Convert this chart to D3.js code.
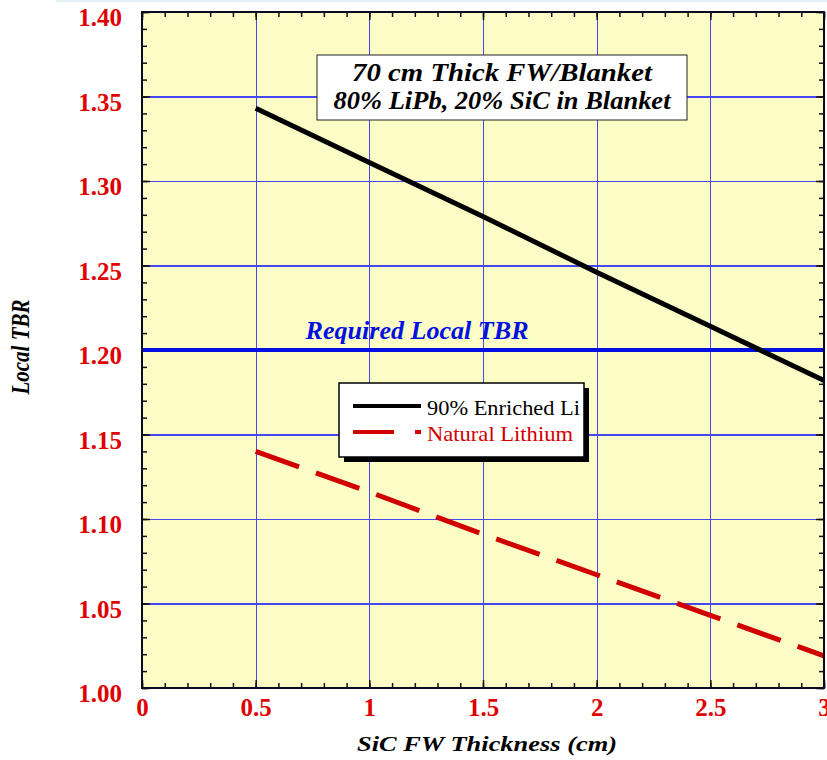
<!DOCTYPE html>
<html>
<head>
<meta charset="utf-8">
<script src="https://cdn.jsdelivr.net/npm/d3@7"></script>
<style>
  body { margin: 0; background: #fff; }
  svg { display: block; }
</style>
</head>
<body>
<svg id="chart" width="827" height="760"></svg>
<script>
// data
const thickness = [0.5, 1.0, 1.5, 2.0, 2.5, 3.0];
const enrichedTBR = [1.343, 1.311, 1.279, 1.246, 1.214, 1.182];
const naturalTBR = [1.140, 1.116, 1.091, 1.067, 1.043, 1.019];
const requiredTBR = 1.20;
const xTicks = [0, 0.5, 1, 1.5, 2, 2.5, 3];
const yTicks = [1.00, 1.05, 1.10, 1.15, 1.20, 1.25, 1.30, 1.35, 1.40];
const xTickLabels = ['0', '0.5', '1', '1.5', '2', '2.5', '3'];
const seriesNames = ['90% Enriched Li', 'Natural Lithium'];
const noteLines = ['70 cm Thick FW/Blanket', '80% LiPb, 20% SiC in Blanket'];

const margin = { left: 142, top: 12, right: 3, bottom: 72 };
const W = 827, H = 760;
const w = W - margin.left - margin.right;
const h = H - margin.top - margin.bottom;

const svg = d3.select('#chart');
const serif = "'Liberation Serif', 'Times New Roman', serif";

// thin pale strip along the top edge
svg.append('rect').attr('x', 56).attr('y', 0).attr('width', W - 56).attr('height', 2)
  .attr('fill', '#e3f0f4');

const g = svg.append('g').attr('transform', `translate(${margin.left},${margin.top})`);

const x = d3.scaleLinear().domain([0, 3]).range([0, w]);
const y = d3.scaleLinear().domain([1.0, 1.4]).range([h, 0]);

// plot background
g.append('rect').attr('width', w).attr('height', h).attr('fill', '#fcfcc6');

// grid lines
const gridStyle = (sel) => {
  sel.select('.domain').remove();
  sel.selectAll('line').attr('stroke', '#4848f0').attr('stroke-width', 1)
    .attr('shape-rendering', 'crispEdges');
};
g.append('g').attr('transform', `translate(0,${h})`)
  .call(d3.axisBottom(x).tickValues(xTicks.slice(1, -1)).tickSize(-h).tickFormat(''))
  .call(gridStyle);
g.append('g')
  .call(d3.axisLeft(y).tickValues(yTicks.slice(1, -1)).tickSize(-w).tickFormat(''))
  .call(gridStyle)
  .selectAll('line').attr('stroke-width', 1.6);

// minor and major ticks on all four sides, pointing inward
const minorX = d3.range(0, 3.0001, 0.1);
const minorY = d3.range(1.0, 1.4001, 0.01);
const tickStyle = (sel) => {
  sel.select('.domain').remove();
  sel.selectAll('line').attr('stroke', '#111').attr('stroke-width', 1.5);
};
g.append('g').attr('transform', `translate(0,${h})`)
  .call(d3.axisBottom(x).tickValues(minorX).tickSize(-5).tickFormat('')).call(tickStyle);
g.append('g')
  .call(d3.axisTop(x).tickValues(minorX).tickSize(-5).tickFormat('')).call(tickStyle);
g.append('g')
  .call(d3.axisLeft(y).tickValues(minorY).tickSize(-5).tickFormat('')).call(tickStyle);
g.append('g').attr('transform', `translate(${w},0)`)
  .call(d3.axisRight(y).tickValues(minorY).tickSize(-5).tickFormat('')).call(tickStyle);
g.append('g')
  .call(d3.axisLeft(y).tickValues(yTicks).tickSize(-8).tickFormat('')).call(tickStyle);
g.append('g').attr('transform', `translate(${w},0)`)
  .call(d3.axisRight(y).tickValues(yTicks).tickSize(-8).tickFormat('')).call(tickStyle);
g.append('g').attr('transform', `translate(0,${h})`)
  .call(d3.axisBottom(x).tickValues(xTicks).tickSize(-8).tickFormat('')).call(tickStyle);
g.append('g')
  .call(d3.axisTop(x).tickValues(xTicks).tickSize(-8).tickFormat('')).call(tickStyle);

// tick labels
const labelStyle = (sel) => {
  sel.select('.domain').remove();
  sel.selectAll('line').remove();
  sel.selectAll('text').attr('fill', '#e00000').attr('font-family', serif)
    .attr('font-weight', 'bold').attr('font-size', 25);
};
g.append('g')
  .call(d3.axisLeft(y).tickValues(yTicks).tickFormat(d3.format('.2f')).tickSize(0).tickPadding(20))
  .call(labelStyle)
  .selectAll('text').attr('dy', '0.55em');
g.append('g').attr('transform', `translate(0,${h})`)
  .call(d3.axisBottom(x).tickValues(xTicks).tickFormat((d, i) => xTickLabels[i]).tickSize(0).tickPadding(10))
  .call(labelStyle)
  .selectAll('text').attr('dy', '0.71em');

// required TBR line
g.append('line')
  .attr('x1', 0).attr('x2', w).attr('y1', y(requiredTBR)).attr('y2', y(requiredTBR))
  .attr('stroke', '#0010e0').attr('stroke-width', 4);
g.append('text')
  .attr('x', x(1.21)).attr('y', y(requiredTBR) - 11)
  .attr('text-anchor', 'middle')
  .attr('font-family', serif).attr('font-weight', 'bold').attr('font-style', 'italic')
  .attr('font-size', 25).attr('fill', '#0010e0')
  .attr('textLength', 223).attr('lengthAdjust', 'spacingAndGlyphs')
  .text('Required Local TBR');

// series lines
const line = d3.line().x((d) => x(d[0])).y((d) => y(d[1]));
g.append('path')
  .datum(d3.zip(thickness, enrichedTBR))
  .attr('d', line).attr('fill', 'none')
  .attr('stroke', '#000').attr('stroke-width', 5);
g.append('path')
  .datum(d3.zip(thickness, naturalTBR))
  .attr('d', line).attr('fill', 'none')
  .attr('stroke', '#d00000').attr('stroke-width', 5)
  .attr('stroke-dasharray', '46 18');

// frame
g.append('rect').attr('width', w).attr('height', h)
  .attr('fill', 'none').attr('stroke', '#0a0a20').attr('stroke-width', 2);

// annotation box
const noteWidths = [300, 337];
const note = g.append('g').attr('transform', `translate(${317 - margin.left},${55 - margin.top})`);
note.append('rect').attr('width', 370).attr('height', 65)
  .attr('fill', '#fff').attr('stroke', '#222').attr('stroke-width', 1);
note.selectAll('text').data(noteLines).join('text')
  .attr('x', 185).attr('y', (d, i) => 26 + i * 28)
  .attr('text-anchor', 'middle')
  .attr('font-family', serif).attr('font-weight', 'bold').attr('font-style', 'italic')
  .attr('font-size', 26).attr('fill', '#000')
  .attr('textLength', (d, i) => noteWidths[i]).attr('lengthAdjust', 'spacingAndGlyphs')
  .text((d) => d);

// legend
const legend = g.append('g').attr('transform', `translate(${339 - margin.left},${383 - margin.top})`);
legend.append('rect').attr('x', 5).attr('y', 5).attr('width', 245).attr('height', 74).attr('fill', '#000');
legend.append('rect').attr('width', 245).attr('height', 74)
  .attr('fill', '#fff').attr('stroke', '#000').attr('stroke-width', 1.5);
const legendColors = ['#000', '#d00000'];
const legendDash = [null, '41 21 6 100'];
const legendWidths = [153, 146];
const rows = legend.selectAll('g.row').data(seriesNames).join('g')
  .attr('class', 'row')
  .attr('transform', (d, i) => `translate(0,${23 + i * 26})`);
rows.append('line')
  .attr('x1', 14).attr('x2', 82).attr('y1', 0).attr('y2', 0)
  .attr('stroke', (d, i) => legendColors[i]).attr('stroke-width', 4)
  .attr('stroke-dasharray', (d, i) => legendDash[i]);
rows.append('text')
  .attr('x', 88).attr('y', 9)
  .attr('font-family', serif).attr('font-size', 22)
  .attr('fill', (d, i) => legendColors[i])
  .attr('textLength', (d, i) => legendWidths[i]).attr('lengthAdjust', 'spacingAndGlyphs')
  .text((d) => d);

// axis titles
svg.append('text')
  .attr('x', 487).attr('y', 751)
  .attr('text-anchor', 'middle')
  .attr('font-family', serif).attr('font-weight', 'bold').attr('font-style', 'italic')
  .attr('font-size', 22).attr('fill', '#000')
  .attr('textLength', 260).attr('lengthAdjust', 'spacingAndGlyphs')
  .text('SiC FW Thickness (cm)');
svg.append('text')
  .attr('transform', `translate(29,${347}) rotate(-90)`)
  .attr('text-anchor', 'middle')
  .attr('font-family', serif).attr('font-weight', 'bold').attr('font-style', 'italic')
  .attr('font-size', 25).attr('fill', '#000')
  .attr('textLength', 95).attr('lengthAdjust', 'spacingAndGlyphs')
  .text('Local TBR');
</script>
</body>
</html>
